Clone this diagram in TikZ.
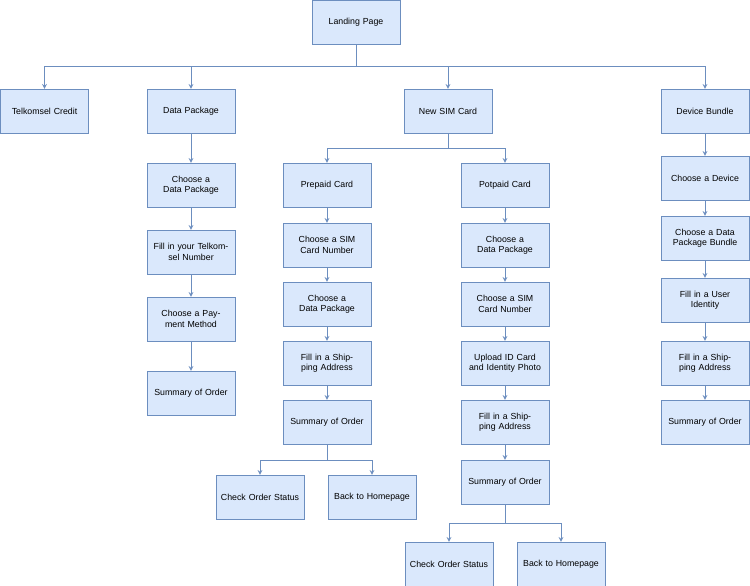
\documentclass[tikz,border=0pt]{standalone}
\usepackage{fontspec}
\setmainfont{Liberation Sans}
\usetikzlibrary{arrows}
\definecolor{boxfill}{HTML}{DAE8FC}
\definecolor{boxline}{HTML}{6C8EBF}
\tikzstyle{page} = [rectangle, minimum width=2.64cm, minimum height=1.32cm, text width=2.4cm, align=center, draw=boxline, fill=boxfill, font=\fontsize{7.5}{9}\selectfont, inner sep=0pt]
\tikzstyle{arrow} = [->,>=stealth,draw=boxline,thick]
\begin{document}
\begin{tikzpicture}[x=0.03cm,y=-0.03cm]
  \useasboundingbox (0,0) rectangle (750,586);
  \node (land) [page] at (356,22) {Landing Page};
  \node (credit) [page] at (44.5,111) {Telkomsel Credit};
  \node (data) [page] at (191,111) {Data Package};
  \node (sim) [page] at (448,111) {New SIM Card};
  \node (device) [page] at (705,111) {Device Bundle};
  % data package
  \node (d1) [page] at (191,185) {Choose a Data Package};
  \node (d2) [page] at (191,252) {Fill in your Telkomsel Number};
  \node (d3) [page] at (191,319) {Choose a Payment Method};
  \node (d4) [page] at (191,393) {Summary of Order};
  % prepaid
  \node (pre) [page] at (327,185) {Prepaid Card};
  \node (pre1) [page] at (327,245) {Choose a SIM Card Number};
  \node (pre2) [page] at (327,304) {Choose a Data Package};
  \node (pre3) [page] at (327,363) {Fill in a Shipping Address};
  \node (pre4) [page] at (327,422) {Summary of Order};
  \node (pre5) [page] at (260,497) {Check Order Status};
  \node (pre6) [page] at (372,497) {Back to Homepage};
  % potpaid
  \node (post) [page] at (505,185) {Potpaid Card};
  \node (post1) [page] at (505,245) {Choose a Data Package};
  \node (post2) [page] at (505,304) {Choose a SIM Card Number};
  \node (post3) [page] at (505,363) {Upload ID Card and Identity Photo};
  \node (post4) [page] at (505,422) {Fill in a Shipping Address};
  \node (post5) [page] at (505,482) {Summary of Order};
  \node (post6) [page] at (449,564) {Check Order Status};
  \node (post7) [page] at (561,564) {Back to Homepage};
  % device bundle
  \node (dev1) [page] at (705,178) {Choose a Device};
  \node (dev2) [page] at (705,238) {Choose a Data Package Bundle};
  \node (dev3) [page] at (705,300) {Fill in a User Identity};
  \node (dev4) [page] at (705,363) {Fill in a Shipping Address};
  \node (dev5) [page] at (705,422) {Summary of Order};

  \coordinate (bus1) at (0,66);
  \coordinate (bus2) at (0,148);
  \coordinate (bus3) at (0,460);
  \coordinate (bus4) at (0,523);
  \foreach \t in {credit,data,sim,device}
    \draw [arrow] (land.south) -- (land.south |- bus1) -| (\t.north);
  \foreach \t in {pre,post}
    \draw [arrow] (sim.south) -- (sim.south |- bus2) -| (\t.north);
  \foreach \t in {pre5,pre6}
    \draw [arrow] (pre4.south) -- (pre4.south |- bus3) -| (\t.north);
  \foreach \t in {post6,post7}
    \draw [arrow] (post5.south) -- (post5.south |- bus4) -| (\t.north);
  \foreach \a/\b in {data/d1,d1/d2,d2/d3,d3/d4,pre/pre1,pre1/pre2,pre2/pre3,pre3/pre4,post/post1,post1/post2,post2/post3,post3/post4,post4/post5,device/dev1,dev1/dev2,dev2/dev3,dev3/dev4,dev4/dev5}
    \draw [arrow] (\a) -- (\b);
\end{tikzpicture}
\end{document}
